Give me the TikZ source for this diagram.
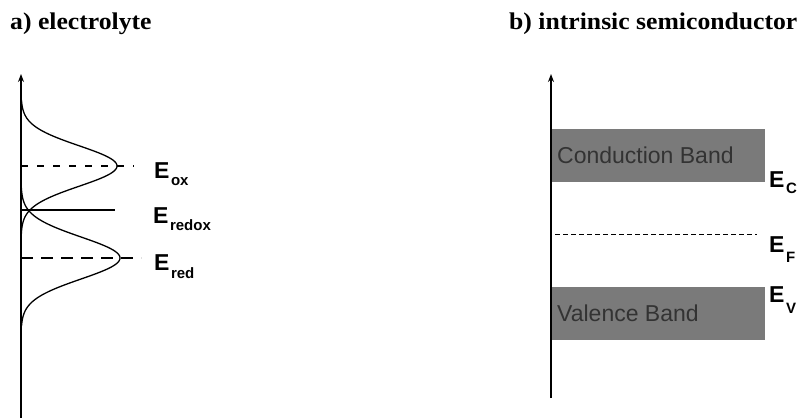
\documentclass[tikz,border=0pt]{standalone}
\usepackage{fontspec}
\setmainfont{Liberation Serif}
\setsansfont{Liberation Sans}
\usetikzlibrary{arrows.meta,positioning}
\newcommand\lvl[2]{E\hspace{1.5pt}\raisebox{-#2}{\fontsize{15}{15}\selectfont #1}}

\begin{document}
\begin{tikzpicture}[x=1pt,y=-1pt,
	title/.style={font=\bfseries\fontsize{24}{26}\selectfont,xscale=1.07,anchor=base west,inner sep=0pt},
	axis/.style={line width=2.2pt,-{Stealth[length=8pt,width=6pt]}},
	level/.style={font=\sffamily\bfseries\fontsize{23}{23}\selectfont,anchor=base west,inner sep=0pt},
	band/.style={fill=black!52,draw=none,minimum width=214pt,minimum height=53pt,anchor=north west,inner sep=0pt},
	bandtext/.style={font=\sffamily\fontsize{23}{23}\selectfont,text=black!80,anchor=west,inner sep=0pt},
	dos/.style={line width=1.3pt}]
	\useasboundingbox (0,0) rectangle (804,418);

	% a) electrolyte
	\node[title] (ta) at (10,29) {a) electrolyte};
	\coordinate (a0) at (21,418);
	\coordinate (a1) at (21,74);
	\draw[axis] (a0) -- (a1);
	\draw[dos] plot[domain=100:234,samples=90,smooth] ({21+96*exp(-((\x-166)/20.2)^2/2)},\x);
	\draw[dos] plot[domain=188:326,samples=90,smooth] ({21+99*exp(-((\x-258)/21)^2/2)},\x);
	\coordinate (oxL) at (21,166);  \coordinate (oxR) at (134,166);
	\coordinate (rxL) at (21,210);  \coordinate (rxR) at (115,210);
	\coordinate (rdL) at (21,258);  \coordinate (rdR) at (141,258);
	\draw[line width=1.2pt,dash pattern=on 7pt off 9pt] (oxL) -- (oxR);
	\draw[line width=1.1pt] (rxL) -- (rxR);
	\draw[line width=1.2pt,dash pattern=on 12pt off 8pt] (rdL) -- (rdR);
	\node[level] (eox) at (154,178) {\lvl{ox}{7pt}};
	\node[level] (erx) at (153,223) {\lvl{redox}{7pt}};
	\node[level] (erd) at (154,270) {\lvl{red}{8pt}};

	% b) intrinsic semiconductor
	\node[title] (tb) at (509,29) {b) intrinsic semiconductor};
	\coordinate (b0) at (551,398);
	\coordinate (b1) at (551,74);
	\node[band] (cb) at (551,129) {};
	\node[band] (vb) at (551,287) {};
	\node[bandtext] (cbt) at ([xshift=6pt]cb.west) {Conduction Band};
	\node[bandtext] (vbt) at ([xshift=6pt]vb.west) {Valence Band};
	\draw[axis,line width=1.8pt] (b0) -- (b1);
	\coordinate (fL) at (555,234);  \coordinate (fR) at (757,234);
	\draw[line width=1pt,dash pattern=on 5pt off 3pt] (fL) -- (fR);
	\node[level] (ec) at (769,187) {\lvl{C}{6pt}};
	\node[level] (ef) at (769,252) {\lvl{F}{10pt}};
	\node[level] (ev) at (769,302) {\lvl{V}{11pt}};
\end{tikzpicture}
\end{document}
